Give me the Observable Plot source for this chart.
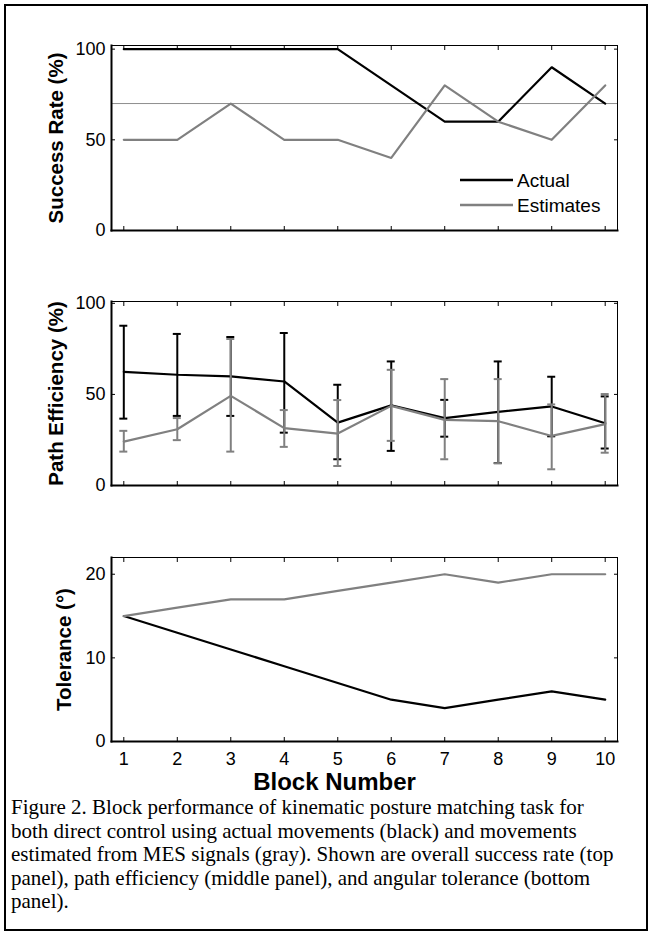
<!DOCTYPE html>
<html>
<head>
<meta charset="utf-8">
<script src="https://cdn.jsdelivr.net/npm/d3@7"></script>
<script src="https://cdn.jsdelivr.net/npm/@observablehq/plot@0.6"></script>
<style>
  body { margin: 0; background: #fff; }
  #fig { position: relative; width: 652px; height: 935px; overflow: hidden; background: #fff; }
  #border { position: absolute; left: 4px; top: 4px; width: 644px; height: 927px; border: 2px solid #000; box-sizing: border-box; }
  .panel { position: absolute; left: 0; }
  #legend { position: absolute; left: 0; top: 0; }
  #caption { position: absolute; left: 11px; top: 796px; font-family: "Liberation Serif", "Times New Roman", serif; font-size: 21px; line-height: 23.5px; color: #000; white-space: nowrap; }
</style>
</head>
<body>
<div id="fig">
  <div id="border"></div>
  <div id="p1" class="panel" style="top:0px"></div>
  <div id="p2" class="panel" style="top:256px"></div>
  <div id="p3" class="panel" style="top:512px"></div>
  <svg id="legend" width="652" height="260"></svg>
  <div id="caption"></div>
</div>
<script>
// ---------- data ----------
const blocks = [1, 2, 3, 4, 5, 6, 7, 8, 9, 10];
const xTicks = [1, 2, 3, 4, 5, 6, 7, 8, 9, 10];
const xDomain = [0.77, 10.23];

// Success rate (%)
const srActual = [100, 100, 100, 100, 100, 80, 60, 60, 90, 70];
const srEst    = [50, 50, 70, 50, 50, 40, 80, 60, 50, 80];
const srRef    = [70];
const srTicks  = [0, 50, 100];

// Path efficiency (%)
const peActual   = [62.4, 60.8, 59.9, 57.1, 34.5, 44.0, 37.0, 40.4, 43.4, 34.2];
const peActualLo = [36.7, 38.2, 38.2, 29.0, 14.4, 19.0, 26.8, 12.3, 27.0, 20.3];
const peActualHi = [87.7, 83.2, 81.5, 83.7, 55.3, 68.1, 47.0, 68.1, 59.7, 48.9];
const peEst      = [24.1, 30.9, 49.2, 31.5, 28.5, 43.7, 36.0, 35.3, 27.2, 33.7];
const peEstLo    = [18.6, 24.9, 18.6, 21.2, 10.7, 24.5, 14.4, 12.2, 8.9, 18.0];
const peEstHi    = [30.0, 37.0, 80.4, 41.4, 46.9, 63.5, 58.4, 58.4, 44.5, 50.2];
const peTicks    = [0, 50, 100];

// Tolerance (deg)
const tolActual = [15, 13, 11, 9, 7, 5, 4, 5, 6, 5];
const tolEst    = [15, 16, 17, 17, 18, 19, 20, 19, 20, 20];
const tolTicks  = [0, 10, 20];

const seriesNames = ["Actual", "Estimates"];
const seriesColors = ["#000000", "#808080"];

const captionLines = [
  "Figure 2. Block performance of kinematic posture matching task for",
  "both direct control using actual movements (black) and movements",
  "estimated from MES signals (gray). Shown are overall success rate (top",
  "panel), path efficiency (middle panel), and angular tolerance (bottom",
  "panel)."
];

// ---------- helpers ----------
const rows = (vals) => blocks.map((b, i) => ({block: b, v: vals[i]}));
const ebRows = (m, lo, hi) => blocks.map((b, i) => ({block: b, v: m[i], lo: lo[i], hi: hi[i]}));

function panel({yDomain, yTicks, marks, ylabel, ylabelDx, showXLabels, height, marginBottom, extra = []}) {
  return Plot.plot({
    width: 652,
    height,
    marginLeft: 111,
    marginRight: 35,
    marginTop: 45,
    marginBottom,
    x: {domain: xDomain},
    y: {domain: yDomain},
    style: {fontFamily: "'Liberation Sans', Arial, sans-serif", fontSize: "18px", color: "#000", background: "transparent", overflow: "visible"},
    marks: [
      ...marks,
      Plot.frame({stroke: "#000", strokeWidth: 1}),
      Plot.frame({anchor: "left", stroke: "#000", strokeWidth: 2}),
      Plot.frame({anchor: "bottom", stroke: "#000", strokeWidth: 2}),
      Plot.axisX(xTicks, {anchor: "bottom", tickSize: -4, tickPadding: 15, tickFormat: showXLabels ? (d => String(d)) : (() => ""), label: null, fontSize: 18}),
      Plot.axisX(xTicks, {anchor: "top", tickSize: -4, tickFormat: () => "", label: null}),
      Plot.axisY(yTicks, {anchor: "left", tickSize: -4, tickPadding: 10, label: null, fontSize: 18}),
      Plot.axisY(yTicks, {anchor: "right", tickSize: -4, tickFormat: () => "", label: null}),
      Plot.text([ylabel], {text: d => d, frameAnchor: "left", rotate: -90, dx: ylabelDx, textAnchor: "middle", lineAnchor: "middle", fontWeight: "bold", fontSize: 20.5}),
      ...extra
    ]
  });
}

// ---------- panel 1 ----------
document.getElementById("p1").append(panel({
  yDomain: [0, 102], yTicks: srTicks, ylabel: "Success Rate (%)", ylabelDx: -55,
  height: 256, marginBottom: 26,
  marks: [
    Plot.ruleY(srRef, {stroke: "#707070", strokeWidth: 0.8}),
    Plot.line(rows(srActual), {x: "block", y: "v", stroke: seriesColors[0], strokeWidth: 2.2}),
    Plot.line(rows(srEst), {x: "block", y: "v", stroke: seriesColors[1], strokeWidth: 2.2})
  ]
}));

// ---------- panel 2 ----------
function errorMarks(data, color) {
  return [
    Plot.ruleX(data, {x: "block", y1: "lo", y2: "hi", stroke: color, strokeWidth: 2}),
    Plot.ruleY(data, {x1: "block", x2: "block", y: "hi", insetLeft: -4, insetRight: -4, stroke: color, strokeWidth: 2}),
    Plot.ruleY(data, {x1: "block", x2: "block", y: "lo", insetLeft: -4, insetRight: -4, stroke: color, strokeWidth: 2})
  ];
}
const peA = ebRows(peActual, peActualLo, peActualHi);
const peE = ebRows(peEst, peEstLo, peEstHi);
document.getElementById("p2").append(panel({
  yDomain: [0, 101], yTicks: peTicks, ylabel: "Path Efficiency (%)", ylabelDx: -55,
  height: 256, marginBottom: 27,
  marks: [
    Plot.line(peA, {x: "block", y: "v", stroke: seriesColors[0], strokeWidth: 2.2}),
    ...errorMarks(peA, seriesColors[0]),
    Plot.line(peE, {x: "block", y: "v", stroke: seriesColors[1], strokeWidth: 2.2}),
    ...errorMarks(peE, seriesColors[1])
  ]
}));

// ---------- panel 3 ----------
document.getElementById("p3").append(panel({
  yDomain: [0, 22], yTicks: tolTicks, ylabel: "Tolerance (\u00B0)", ylabelDx: -47,
  height: 300, marginBottom: 71, showXLabels: true,
  marks: [
    Plot.line(rows(tolActual), {x: "block", y: "v", stroke: seriesColors[0], strokeWidth: 2.2}),
    Plot.line(rows(tolEst), {x: "block", y: "v", stroke: seriesColors[1], strokeWidth: 2.2})
  ],
  extra: [
    Plot.text(["Block Number"], {text: d => d, frameAnchor: "bottom", dx: -30, dy: 48, textAnchor: "middle", lineAnchor: "bottom", fontWeight: "bold", fontSize: 24})
  ]
}));

// ---------- legend (panel 1) ----------
const leg = d3.select("#legend");
seriesNames.forEach((name, i) => {
  const y = 180 + i * 25;
  leg.append("line").attr("x1", 460).attr("x2", 513).attr("y1", y).attr("y2", y)
    .attr("stroke", seriesColors[i]).attr("stroke-width", 2.5);
  leg.append("text").attr("x", 517).attr("y", y).attr("dy", "0.35em")
    .attr("font-family", "'Liberation Sans', Arial, sans-serif").attr("font-size", 19)
    .attr("fill", "#000").text(name);
});

// ---------- caption ----------
const cap = document.getElementById("caption");
captionLines.forEach(line => { const d = document.createElement("div"); d.textContent = line; cap.appendChild(d); });
</script>
</body>
</html>
